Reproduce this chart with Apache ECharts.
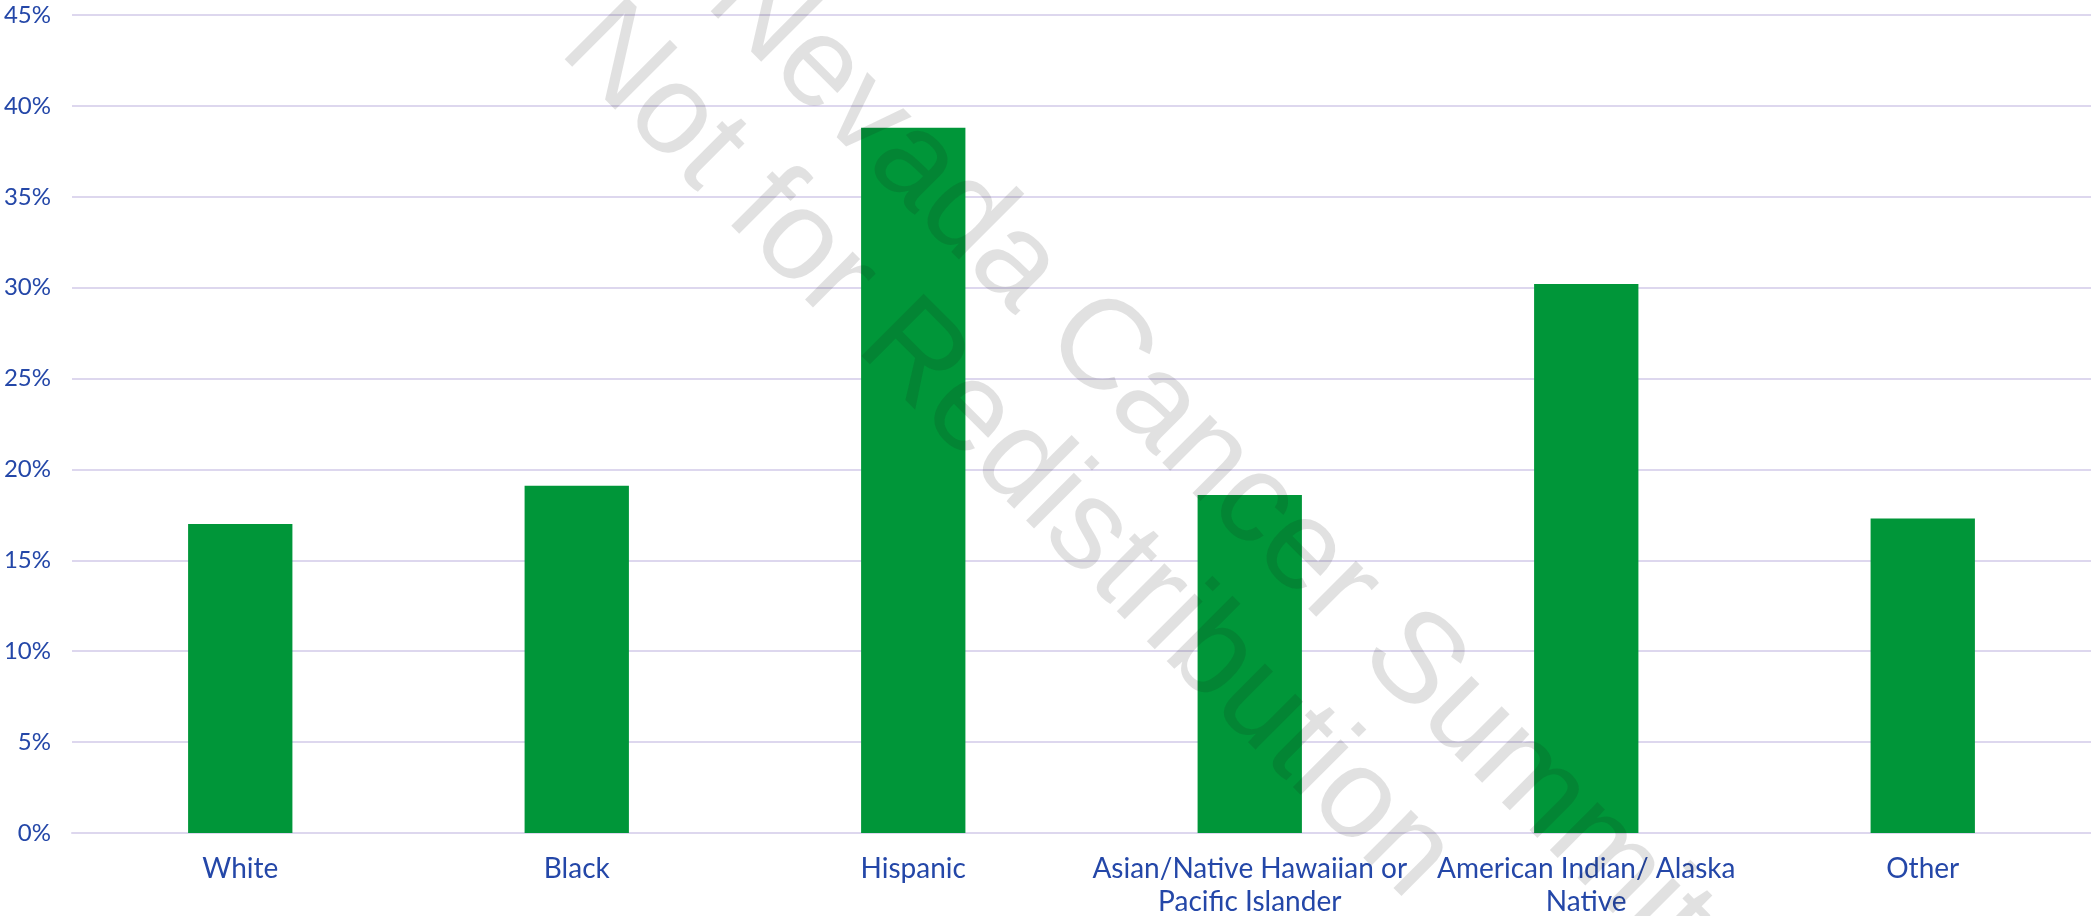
<!DOCTYPE html>
<html>
<head>
<meta charset="utf-8">
<title>Share by race/ethnicity</title>
<script src="https://cdn.jsdelivr.net/npm/echarts@6/dist/echarts.min.js"></script>
<style>
  html, body { margin: 0; padding: 0; background: #fff; }
  #main { width: 2091px; height: 916px; }
</style>
</head>
<body>
<div id="main"></div>
<script>
// categories + values (percent)
var categories = [
  "White",
  "Black",
  "Hispanic",
  "Asian/Native Hawaiian or\nPacific Islander",
  "American Indian/ Alaska\nNative",
  "Other"
];
var values = [17.0, 19.1, 38.8, 18.6, 30.2, 17.3];
var yTicks = { min: 0, max: 45, step: 5 };
var watermarkLines = ["Nevada Cancer Summit", "Not for Redistribution"];

var labelBlue = "#2447a8";
var gridColor = "#ddd7ee";
var wmFont = '128px "Liberation Sans"';
var wmFill = "rgba(20,20,20,0.13)";

var chart = echarts.init(document.getElementById("main"));
chart.setOption({
  animation: false,
  // fixed plot box, labels may run to the page edge
  grid: { left: 72, right: 0, top: 15, bottom: 83, outerBoundsMode: "none", containLabel: false },
  xAxis: {
    type: "category",
    data: categories,
    axisLine: { lineStyle: { color: gridColor, width: 2 } },
    axisTick: { show: false },
    axisLabel: {
      color: labelBlue,
      fontFamily: "Lato",
      fontSize: 28,
      lineHeight: 33,
      margin: 19,
      interval: 0
    }
  },
  yAxis: {
    type: "value",
    min: yTicks.min,
    max: yTicks.max,
    interval: yTicks.step,
    axisLine: { show: false },
    axisTick: { show: false },
    splitLine: { lineStyle: { color: gridColor, width: 2 } },
    axisLabel: {
      color: labelBlue,
      fontFamily: "Lato",
      fontSize: 24,
      margin: 21,
      formatter: "{value}%"
    }
  },
  series: [
    {
      type: "bar",
      data: values,
      barWidth: "31%",
      itemStyle: { color: "#009639" }
    }
  ],
  // watermark on top of everything
  graphic: [
    {
      type: "text",
      x: 683,
      y: 24,
      rotation: -Math.PI / 4,
      z: 100,
      style: {
        text: watermarkLines[0],
        font: wmFont,
        fill: wmFill,
        textAlign: "left",
        textVerticalAlign: "bottom"
      }
    },
    {
      type: "text",
      x: 537,
      y: 72,
      rotation: -Math.PI / 4,
      z: 100,
      style: {
        text: watermarkLines[1],
        font: wmFont,
        fill: wmFill,
        textAlign: "left",
        textVerticalAlign: "bottom"
      }
    }
  ]
});
</script>
</body>
</html>
